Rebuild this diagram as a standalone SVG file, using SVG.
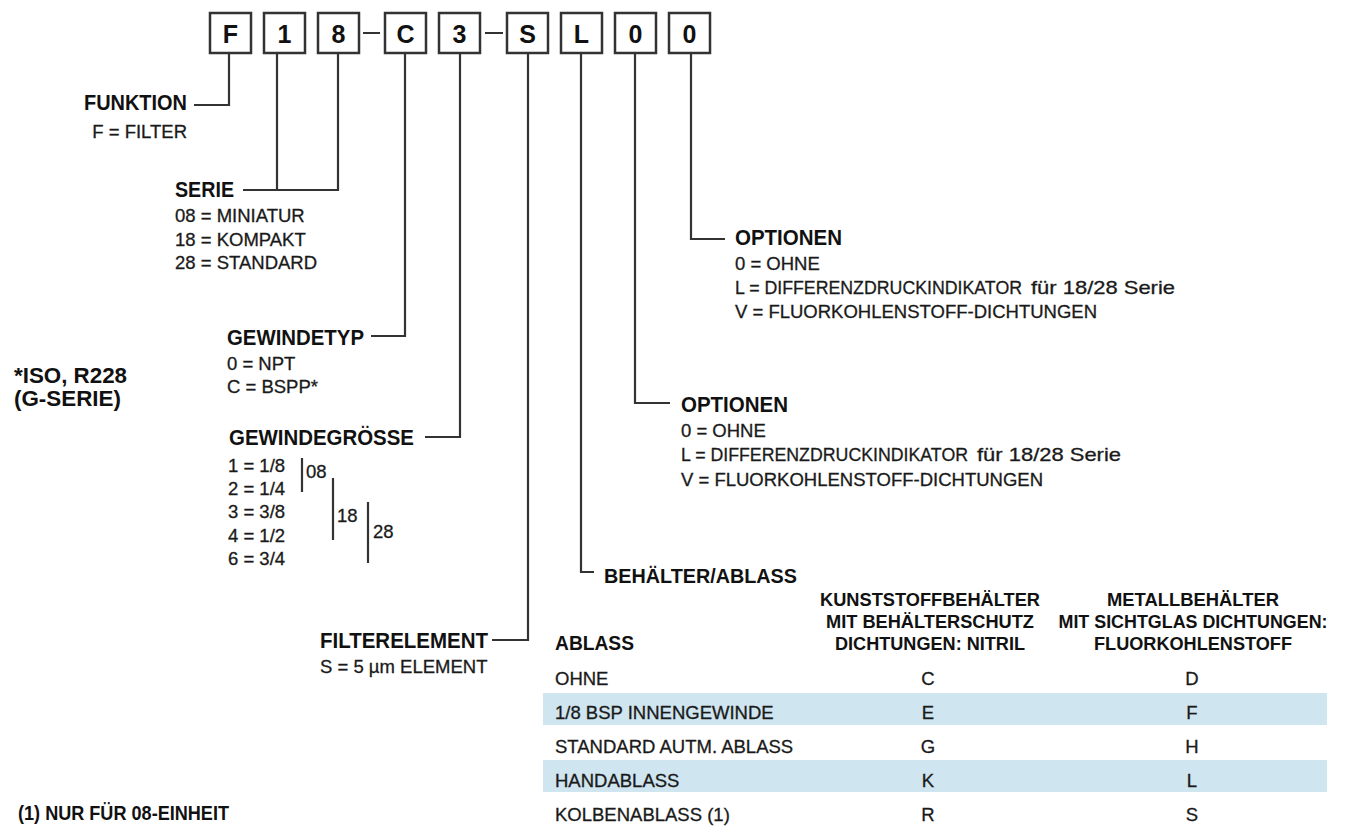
<svg xmlns="http://www.w3.org/2000/svg" width="1346" height="829" viewBox="0 0 1346 829">
<style>
.box{fill:#fff;stroke:#333;stroke-width:2.5}
.bl{font-family:"Liberation Sans",Arial,sans-serif;font-weight:bold;font-size:25px;text-anchor:middle;fill:#111}
.h{font-family:"Liberation Sans",Arial,sans-serif;font-weight:bold;font-size:22px;fill:#111}
.hs{font-family:"Liberation Sans",Arial,sans-serif;font-weight:bold;font-size:21px;fill:#111}
.th{font-family:"Liberation Sans",Arial,sans-serif;font-weight:bold;font-size:19px;fill:#111;text-anchor:middle}
.t{font-family:"Liberation Sans",Arial,sans-serif;font-size:18.5px;fill:#1a1a1a;stroke:#1a1a1a;stroke-width:0.3}
.c{text-anchor:middle}
.e{text-anchor:end}
.ln{fill:none;stroke:#333;stroke-width:2.2}
.band{fill:#cfe5ef}
</style>
<rect width="1346" height="829" fill="#fff"/>
<g id="code">
<g id="box-F"><rect class="box" x="210" y="13" width="41" height="40"/><text class="bl" x="230.5" y="43">F</text></g>
<g id="box-1"><rect class="box" x="264" y="13" width="41" height="40"/><text class="bl" x="284.5" y="43">1</text></g>
<g id="box-8"><rect class="box" x="318" y="13" width="41" height="40"/><text class="bl" x="338.5" y="43">8</text></g>
<g id="box-C"><rect class="box" x="385" y="13" width="41" height="40"/><text class="bl" x="405.5" y="43">C</text></g>
<g id="box-3"><rect class="box" x="439" y="13" width="41" height="40"/><text class="bl" x="459.5" y="43">3</text></g>
<g id="box-S"><rect class="box" x="507" y="13" width="41" height="40"/><text class="bl" x="527.5" y="43">S</text></g>
<g id="box-L"><rect class="box" x="561" y="13" width="41" height="40"/><text class="bl" x="581.5" y="43">L</text></g>
<g id="box-0a"><rect class="box" x="615" y="13" width="41" height="40"/><text class="bl" x="635.5" y="43">0</text></g>
<g id="box-0b"><rect class="box" x="669" y="13" width="41" height="40"/><text class="bl" x="689.5" y="43">0</text></g>
<path class="ln" d="M363 33H380M485 33H503" stroke-width="2.5"/>
</g>
<g id="connectors">
<path class="ln" d="M229 54V105H194"/>
<path class="ln" d="M277 54V190"/>
<path class="ln" d="M338 54V190H243"/>
<path class="ln" d="M405 54V336H371"/>
<path class="ln" d="M460 54V437H425"/>
<path class="ln" d="M528 54V640H492"/>
<path class="ln" d="M581 54V572H594"/>
<path class="ln" d="M635 54V403H670"/>
<path class="ln" d="M691 54V239H725"/>
</g>
<g id="funktion">
<text class="h e" x="187" y="110" textLength="103" lengthAdjust="spacingAndGlyphs">FUNKTION</text>
<text class="t e" x="187" y="138">F = FILTER</text>
</g>
<g id="serie">
<text class="h" x="175" y="197" textLength="59" lengthAdjust="spacingAndGlyphs">SERIE</text>
<text class="t" x="175" y="222">08 = MINIATUR</text>
<text class="t" x="175" y="246">18 = KOMPAKT</text>
<text class="t" x="175" y="269">28 = STANDARD</text>
</g>
<g id="gewindetyp">
<text class="h" x="227" y="345" textLength="137" lengthAdjust="spacingAndGlyphs">GEWINDETYP</text>
<text class="t" x="227" y="370">0 = NPT</text>
<text class="t" x="227" y="393">C = BSPP*</text>
</g>
<g id="iso-note">
<text class="h" x="14" y="383" font-size="21" textLength="113" lengthAdjust="spacingAndGlyphs">*ISO, R228</text>
<text class="h" x="14" y="406" font-size="21" textLength="107" lengthAdjust="spacingAndGlyphs">(G-SERIE)</text>
</g>
<g id="gewindegroesse">
<text class="h" x="229" y="445" textLength="185" lengthAdjust="spacingAndGlyphs">GEWINDEGRÖSSE</text>
<text class="t" x="228" y="472">1 = 1/8</text>
<text class="t" x="228" y="495">2 = 1/4</text>
<text class="t" x="228" y="518">3 = 3/8</text>
<text class="t" x="228" y="542">4 = 1/2</text>
<text class="t" x="228" y="565">6 = 3/4</text>
<path class="ln" d="M302 458V492M333 478V540M368 502V563"/>
<text class="t" x="306" y="478">08</text>
<text class="t" x="337" y="522">18</text>
<text class="t" x="373" y="538">28</text>
</g>
<g id="filterelement">
<text class="h" x="320" y="648" textLength="168" lengthAdjust="spacingAndGlyphs">FILTERELEMENT</text>
<text class="t" x="320" y="673">S = 5 µm ELEMENT</text>
</g>
<g id="optionen-1">
<text class="h" x="735" y="245" textLength="107" lengthAdjust="spacingAndGlyphs">OPTIONEN</text>
<text class="t" x="735" y="270">0 = OHNE</text>
<text class="t" x="735" y="294" xml:space="preserve"><tspan textLength="287" lengthAdjust="spacingAndGlyphs">L = DIFFERENZDRUCKINDIKATOR</tspan>  <tspan x="1031" textLength="144" lengthAdjust="spacingAndGlyphs">für 18/28 Serie</tspan></text>
<text class="t" x="735" y="318">V = FLUORKOHLENSTOFF-DICHTUNGEN</text>
</g>
<g id="optionen-2">
<text class="h" x="681" y="412" textLength="107" lengthAdjust="spacingAndGlyphs">OPTIONEN</text>
<text class="t" x="681" y="437">0 = OHNE</text>
<text class="t" x="681" y="461" xml:space="preserve"><tspan textLength="287" lengthAdjust="spacingAndGlyphs">L = DIFFERENZDRUCKINDIKATOR</tspan>  <tspan x="977" textLength="144" lengthAdjust="spacingAndGlyphs">für 18/28 Serie</tspan></text>
<text class="t" x="681" y="486">V = FLUORKOHLENSTOFF-DICHTUNGEN</text>
</g>
<g id="behaelter-ablass">
<text class="hs" x="604" y="583" textLength="193" lengthAdjust="spacingAndGlyphs">BEHÄLTER/ABLASS</text>
<rect class="band" x="543" y="693" width="784" height="32"/>
<rect class="band" x="543" y="760" width="784" height="32"/>
<text class="hs" x="555" y="650" textLength="79" lengthAdjust="spacingAndGlyphs">ABLASS</text>
<text class="th" x="930" y="606" textLength="220" lengthAdjust="spacingAndGlyphs">KUNSTSTOFFBEHÄLTER</text>
<text class="th" x="930" y="628" textLength="208" lengthAdjust="spacingAndGlyphs">MIT BEHÄLTERSCHUTZ</text>
<text class="th" x="930" y="650" textLength="190" lengthAdjust="spacingAndGlyphs">DICHTUNGEN: NITRIL</text>
<text class="th" x="1193" y="606" textLength="172" lengthAdjust="spacingAndGlyphs">METALLBEHÄLTER</text>
<text class="th" x="1193" y="628" textLength="269" lengthAdjust="spacingAndGlyphs">MIT SICHTGLAS DICHTUNGEN:</text>
<text class="th" x="1193" y="650" textLength="198" lengthAdjust="spacingAndGlyphs">FLUORKOHLENSTOFF</text>
<text class="t" x="555" y="685">OHNE</text>
<text class="t c" x="928" y="685">C</text>
<text class="t c" x="1192" y="685">D</text>
<text class="t" x="555" y="719">1/8 BSP INNENGEWINDE</text>
<text class="t c" x="928" y="719">E</text>
<text class="t c" x="1192" y="719">F</text>
<text class="t" x="555" y="753">STANDARD AUTM. ABLASS</text>
<text class="t c" x="928" y="753">G</text>
<text class="t c" x="1192" y="753">H</text>
<text class="t" x="555" y="787">HANDABLASS</text>
<text class="t c" x="928" y="787">K</text>
<text class="t c" x="1192" y="787">L</text>
<text class="t" x="555" y="821">KOLBENABLASS (1)</text>
<text class="t c" x="928" y="821">R</text>
<text class="t c" x="1192" y="821">S</text>
</g>
<g id="footnote">
<text class="th" x="18" y="820" style="text-anchor:start;font-size:20px" textLength="211" lengthAdjust="spacingAndGlyphs">(1) NUR FÜR 08-EINHEIT</text>
</g>
</svg>
